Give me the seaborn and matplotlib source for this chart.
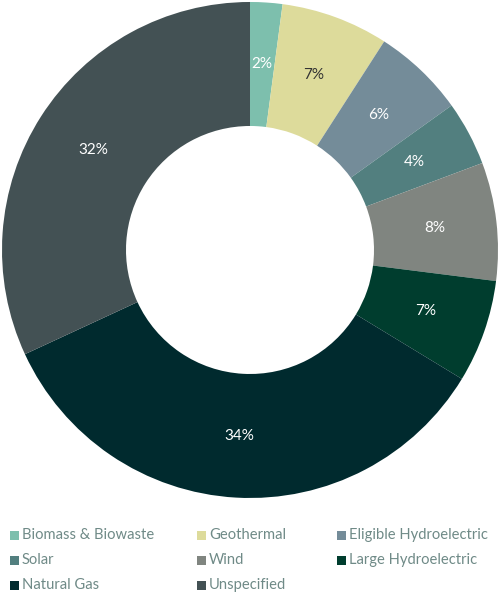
import matplotlib
matplotlib.use("Agg")
import matplotlib.pyplot as plt
import seaborn as sns
from matplotlib.patches import Rectangle

categories = ["Biomass & Biowaste", "Geothermal", "Eligible Hydroelectric", "Solar",
              "Wind", "Large Hydroelectric", "Natural Gas", "Unspecified"]
values = [2.1, 7.0, 6.0, 4.2, 7.7, 6.7, 34.4, 31.9]
colors = ["#7dbfad", "#dddb9b", "#748c99", "#527f7f", "#808580", "#003d2e", "#002a2e", "#435154"]
label_colors = ["white", "#333333", "white", "white", "white", "white", "white", "white"]

sns.set_theme(style="white")
plt.rcParams["font.family"] = ["Lato", "DejaVu Sans"]

fig = plt.figure(figsize=(5, 6), dpi=100)
ax = fig.add_axes([0.004, 0.17, 0.992, 0.8267])
wedges, texts, autotexts = ax.pie(
    values, colors=colors, startangle=90, counterclock=False,
    radius=1.0, pctdistance=0.75,
    autopct=lambda p: f"{p:.0f}%",
    wedgeprops=dict(width=0.5, edgecolor="none"),
    textprops=dict(fontsize=11),
)
for t, c in zip(autotexts, label_colors):
    t.set_color(c)
ax.set_xlim(-1, 1)
ax.set_ylim(-1, 1)
ax.set_aspect("equal")
ax.axis("off")

# legend laid out row-wise in a 3-column grid
col_x = [10, 197, 337]
row_y = [535, 560, 585]
W, H = 500.0, 600.0
for i, (name, col) in enumerate(zip(categories, colors)):
    r, c = divmod(i, 3)
    x0 = col_x[c]
    yc = row_y[r]
    fig.patches.append(Rectangle((x0 / W, 1 - (yc + 4.5) / H), 9 / W, 9 / H,
                                 transform=fig.transFigure, facecolor=col,
                                 edgecolor="none"))
    fig.text((x0 + 12) / W, 1 - yc / H, name, fontsize=10.6, color="#6f8a87",
             va="center", ha="left")

fig.savefig("out.png", dpi=100)
